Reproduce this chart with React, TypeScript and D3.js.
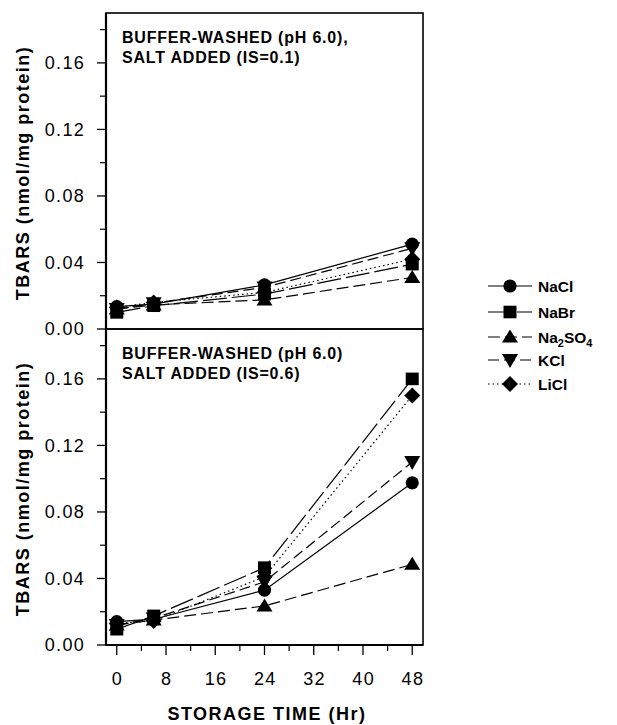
import React from 'react';
import * as d3 from 'd3';

const times = [0, 6, 24, 48];
const saltNames = ['NaCl', 'NaBr', 'Na2SO4', 'KCl', 'LiCl'];

// Panel A: IS = 0.1
const topNaCl = [0.0135, 0.015, 0.0265, 0.051];
const topNaBr = [0.010, 0.014, 0.021, 0.039];
const topNa2SO4 = [0.012, 0.0145, 0.0175, 0.031];
const topKCl = [0.012, 0.0155, 0.025, 0.0485];
const topLiCl = [0.013, 0.016, 0.022, 0.042];

// Panel B: IS = 0.6
const botNaCl = [0.014, 0.0155, 0.033, 0.0975];
const botNaBr = [0.0095, 0.0175, 0.0465, 0.160];
const botNa2SO4 = [0.012, 0.015, 0.0235, 0.0485];
const botKCl = [0.012, 0.016, 0.038, 0.110];
const botLiCl = [0.013, 0.0145, 0.041, 0.150];

const yTicks = [0, 0.04, 0.08, 0.12, 0.16];
const yMinorTicks = [0.02, 0.06, 0.10, 0.14, 0.18];
const xTicks = [0, 8, 16, 24, 32, 40, 48];
const xMinorTicks = [4, 12, 20, 28, 36, 44];

const topTitle = ['BUFFER-WASHED (pH 6.0),', 'SALT ADDED (IS=0.1)'];
const botTitle = ['BUFFER-WASHED (pH 6.0)', 'SALT ADDED (IS=0.6)'];
const yLabel = 'TBARS (nmol/mg protein)';
const xLabel = 'STORAGE TIME (Hr)';

const FONT = '"Liberation Sans", Arial, Helvetica, sans-serif';

const dashes: Record<string, string | undefined> = {
  NaCl: undefined,
  NaBr: '24,5',
  Na2SO4: '12,5',
  KCl: '11,5',
  LiCl: '1.5,3',
};

function markerPath(name: string, cx: number, cy: number): JSX.Element {
  if (name === 'NaCl') return <circle cx={cx} cy={cy} r={6.6} fill="#000" />;
  if (name === 'NaBr') return <rect x={cx - 6.5} y={cy - 6.3} width={13} height={12.6} fill="#000" />;
  if (name === 'Na2SO4') {
    const p = d3.path();
    p.moveTo(cx, cy - 7.5); p.lineTo(cx + 8, cy + 5.5); p.lineTo(cx - 8, cy + 5.5); p.closePath();
    return <path d={p.toString()} fill="#000" />;
  }
  if (name === 'KCl') {
    const p = d3.path();
    p.moveTo(cx - 8, cy - 6); p.lineTo(cx + 8, cy - 6); p.lineTo(cx, cy + 8); p.closePath();
    return <path d={p.toString()} fill="#000" />;
  }
  const p = d3.path();
  p.moveTo(cx, cy - 8); p.lineTo(cx + 8, cy); p.lineTo(cx, cy + 8); p.lineTo(cx - 8, cy); p.closePath();
  return <path d={p.toString()} fill="#000" />;
}

const left = 106, right = 423;
const x = d3.scaleLinear().domain([-1.75, 49.75]).range([left, right]);

function Panel({ top, bottom, series, title, showX }: { top: number; bottom: number; series: number[][]; title: string[]; showX: boolean }) {
  const y = d3.scaleLinear().domain([0, 0.19]).range([bottom, top]);
  const line = d3.line<number>().x((_, i) => x(times[i])).y((d) => y(d));
  return (
    <g>
      {series.map((vals, s) => (
        <path key={'l' + s} d={line(vals) || ''} fill="none" stroke="#000" strokeWidth={1.2}
          strokeDasharray={dashes[saltNames[s]]} />
      ))}
      {[3, 4, 2, 1, 0].map((s) => (
        <g key={'m' + s}>{series[s].map((v, i) => <g key={i}>{markerPath(saltNames[s], x(times[i]), y(v))}</g>)}</g>
      ))}
      <rect x={left} y={top} width={right - left} height={bottom - top} fill="none" stroke="#000" strokeWidth={1.6} />
      <line x1={left} x2={left} y1={top} y2={bottom} stroke="#000" strokeWidth={2.2} />
      {yTicks.map((t) => (
        <g key={'yt' + t}>
          <line x1={left - 9} x2={left} y1={y(t)} y2={y(t)} stroke="#000" strokeWidth={1.3} />
          <text x={85} y={y(t)} dy="0.35em" textAnchor="end" fontFamily={FONT} fontSize={18} letterSpacing={1.3}>{t.toFixed(2)}</text>
        </g>
      ))}
      {yMinorTicks.map((t) => (
        <line key={'ym' + t} x1={left - 6} x2={left} y1={y(t)} y2={y(t)} stroke="#000" strokeWidth={1.2} />
      ))}
      {title.map((tl, i) => (
        <text key={'t' + i} x={122} y={top + 30 + i * 20} fontFamily={FONT} fontSize={16} fontWeight="bold" letterSpacing={0.8}>{tl}</text>
      ))}
      <text transform={`translate(28.5,${(top + bottom) / 2 + 2}) rotate(-90)`} textAnchor="middle" fontFamily={FONT}
        fontSize={18} fontWeight="bold" letterSpacing={1.5}>{yLabel}</text>
      {showX && (
        <g>
          <line x1={left} x2={right} y1={bottom} y2={bottom} stroke="#000" strokeWidth={2} />
          {xTicks.map((t) => (
            <g key={'xt' + t}>
              <line x1={x(t)} x2={x(t)} y1={bottom} y2={bottom + 10} stroke="#000" strokeWidth={1.3} />
              <text x={x(t) + 0.7} y={685} textAnchor="middle" fontFamily={FONT} fontSize={18} letterSpacing={1.3}>{t}</text>
            </g>
          ))}
          {xMinorTicks.map((t) => (
            <line key={'xm' + t} x1={x(t)} x2={x(t)} y1={bottom} y2={bottom + 6} stroke="#000" strokeWidth={1.2} />
          ))}
          <text x={267} y={720} textAnchor="middle" fontFamily={FONT} fontSize={18} fontWeight="bold" letterSpacing={1.5}>{xLabel}</text>
        </g>
      )}
    </g>
  );
}

const legendY = [286, 312, 337, 360, 384];

export default function App() {
  const topSeries = [topNaCl, topNaBr, topNa2SO4, topKCl, topLiCl];
  const botSeries = [botNaCl, botNaBr, botNa2SO4, botKCl, botLiCl];
  return (
    <svg width={617} height={725} style={{ position: 'absolute', left: 0, top: 0, background: '#fff' }}>
      <rect width={617} height={725} fill="#fff" />
      <Panel top={13} bottom={329} series={topSeries} title={topTitle} showX={false} />
      <Panel top={329} bottom={645} series={botSeries} title={botTitle} showX={true} />
      {saltNames.map((n, i) => (
        <g key={n}>
          <line x1={488} x2={532} y1={legendY[i]} y2={legendY[i]} stroke="#000" strokeWidth={1.2} strokeDasharray={dashes[n]} />
          {markerPath(n, 510, legendY[i])}
          <text x={538} y={legendY[i]} dy="0.36em" fontFamily={FONT} fontSize={15.5} fontWeight="bold">
            {n === 'Na2SO4' ? (
              <>
                <tspan>Na</tspan>
                <tspan fontSize={11} dy={4}>2</tspan>
                <tspan dy={-4}>SO</tspan>
                <tspan fontSize={11} dy={4}>4</tspan>
              </>
            ) : n}
          </text>
        </g>
      ))}
    </svg>
  );
}
